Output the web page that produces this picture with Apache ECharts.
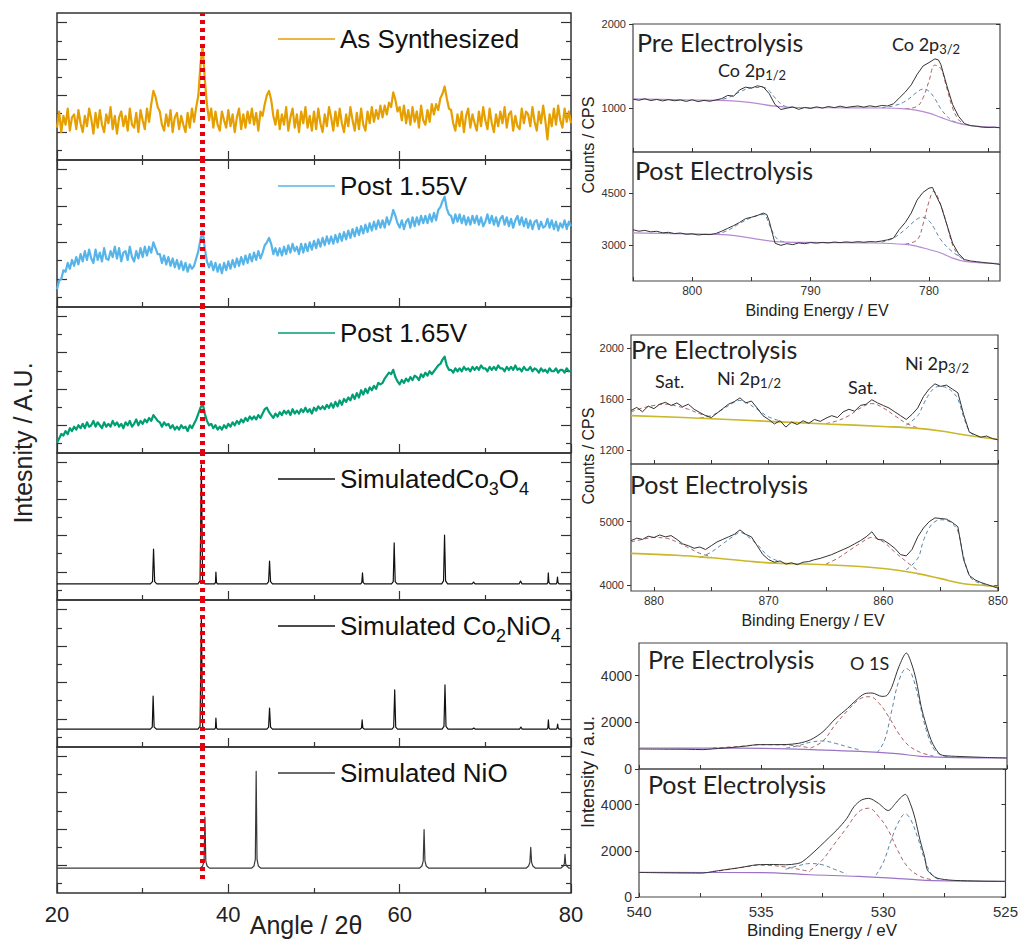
<!DOCTYPE html>
<html><head><meta charset="utf-8">
<script src="https://cdn.jsdelivr.net/npm/echarts@6.0.0/dist/echarts.min.js"></script>
<style>html,body{margin:0;padding:0;background:#fff}#c{width:1021px;height:939px}</style>
</head><body><div id="c"></div>
<script>
// ---------------- XRD data (left) ----------------
const xrdStart = 20, xrdStep = 0.25;
const xrdAsSynthesized = [
22,33,19,30, 24,35,20,29, 31,21,34,25, 19,30,23,35, 28,18,32,22, 34,24,19,31, 25,36,21,30, 18,29,33,23, 30,20,35,24, 22,32,19,34,
27,21,35,26, 38,47,43,36, 33,24,20,31, 23,34,19,29, 32,21,30,24, 19,32,22,35, 26,36,44,65, 78,55,38,27, 35,22,33,24, 20,33,27,22,
34,23,31,19, 29,35,21,31, 22,33,25,35, 24,32,20,33, 30,38,44,47, 41,30,24,34, 21,31,24,36, 20,29,35,22, 31,19,33,25, 36,22,30,20,
33,21,35,25, 19,31,23,36, 29,20,33,23, 35,25,19,31, 23,36,27,20, 32,21,35,24, 20,33,25,36, 26,34,28,37, 29,37,31,39, 36,46,41,33,
36,27,37,25, 34,24,36,26, 33,22,37,27, 24,34,26,38, 31,38,34,42, 45,50,42,35, 34,25,20,31, 23,33,19,30, 35,22,31,25, 20,33,23,36,
27,21,35,25, 19,31,23,33, 25,36,22,31, 33,20,30,23, 21,35,25,33, 31,23,36,26, 20,33,25,37, 27,14,31,23, 35,24,37,27, 22,35,26,33,
25];
const xrdPost155 = [
12,18,19,25, 24,30,26,32, 28,34,29,36, 31,38,32,39, 33,30,39,32, 37,31,40,33, 32,38,34,41, 33,40,31,37, 38,32,41,34, 31,38,33,40,
34,41,35,41, 37,44,40,36, 36,30,35,29, 34,28,33,27, 32,26,31,25, 30,24,29,26, 28,33,38,46, 52,40,31,27, 31,25,30,24, 29,23,30,25,
31,26,32,27, 33,28,34,29, 35,30,36,31, 37,32,38,33, 37,42,44,47, 43,36,40,35, 40,35,41,36, 42,37,43,38, 41,36,43,37, 43,38,44,39,
45,40,46,41, 47,42,48,43, 48,43,49,44, 50,45,51,46, 52,47,53,48, 54,49,55,50, 56,51,57,52, 58,53,59,54, 59,54,61,56, 60,66,62,57,
54,59,53,58, 60,54,61,55, 61,56,62,57, 62,57,63,58, 64,59,66,68, 72,75,67,63, 62,57,63,58, 63,57,62,56, 61,56,62,57, 62,56,61,55,
58,63,57,62, 56,61,55,60, 62,56,61,55, 60,54,59,62, 56,61,55,60, 54,59,53,58, 59,53,58,54, 55,60,54,59, 53,58,52,57, 54,59,53,58,
55];
const xrdPost165 = [
7,10,13,12, 15,13,17,15, 18,16,19,17, 20,17,21,18, 19,22,18,21, 19,17,21,18, 20,18,22,19, 21,18,20,17, 21,19,22,18, 20,23,19,22,
20,23,21,24, 22,26,24,22, 21,18,21,19, 20,17,19,16, 18,16,19,17, 18,15,19,17, 20,23,27,31, 34,27,22,19, 20,17,19,16, 18,16,19,17,
20,18,21,19, 22,20,23,21, 24,22,25,23, 25,23,26,24, 27,30,31,28, 26,24,27,25, 28,26,29,27, 29,26,30,27, 29,27,30,28, 31,28,30,27,
31,29,32,30, 32,30,33,31, 34,31,35,32, 36,33,37,35, 38,36,40,37, 41,38,43,40, 44,41,45,43, 46,44,48,47, 48,51,53,55, 54,57,52,49,
47,50,48,51, 49,52,50,53, 52,50,54,52, 55,53,56,54, 56,58,60,61, 64,66,60,57, 57,55,58,56, 58,56,59,57, 58,56,59,57, 59,57,60,58,
58,56,59,57, 59,57,60,58, 58,56,59,57, 59,57,60,57, 58,56,59,57, 57,59,56,58, 57,55,58,56, 57,55,58,56, 56,58,55,57, 57,55,58,56,
56];
const simCo3O4 = [[20,11],[30.9,11],[31.15,12.5],[31.27,34.7],[31.4,12.5],[31.65,11],
[36.45,11],[36.7,13],[36.85,92],[37.0,13],[37.25,11],
[38.4,11],[38.5,12],[38.55,19],[38.62,12],[38.72,11],
[44.5,11],[44.7,12.5],[44.81,26.5],[44.93,12.5],[45.15,11],
[55.45,11],[55.58,12],[55.66,18.4],[55.74,12],[55.9,11],
[59.05,11],[59.25,12.5],[59.36,38.8],[59.48,12.5],[59.7,11],
[64.9,11],[65.12,13],[65.24,44.2],[65.36,13],[65.6,11],
[68.45,11],[68.63,12.2],[68.8,11],
[73.95,11],[74.11,12.9],[74.27,11],
[77.2,11],[77.3,12],[77.35,18.4],[77.42,12],[77.55,11],
[78.3,11],[78.36,12],[78.42,15.6],[78.48,12],[78.6,11],[80,11]];
const simCo2NiO4 = [[20,12.2],[30.9,12.2],[31.12,13.5],[31.22,34.7],[31.34,13.5],[31.6,12.2],
[36.45,12.2],[36.7,14],[36.85,88],[37.0,14],[37.25,12.2],
[38.4,12.2],[38.5,13],[38.55,19.7],[38.62,13],[38.72,12.2],
[44.5,12.2],[44.7,13.5],[44.81,26.5],[44.93,13.5],[45.15,12.2],
[55.4,12.2],[55.55,13],[55.62,18.4],[55.7,13],[55.85,12.2],
[59.1,12.2],[59.3,13.5],[59.42,38.8],[59.54,13.5],[59.75,12.2],
[64.95,12.2],[65.17,14],[65.29,42.2],[65.41,14],[65.65,12.2],
[68.5,12.2],[68.65,12.9],[68.8,12.2],
[74.0,12.2],[74.15,13.6],[74.3,12.2],
[77.2,12.2],[77.3,13],[77.36,18.4],[77.43,13],[77.55,12.2],
[78.3,12.2],[78.38,13],[78.44,15.6],[78.5,13],[78.6,12.2],[80,12.2]];
const simNiO = [[20,17],[36.7,17],[37.0,18.5],[37.17,22],[37.27,52],[37.37,22],[37.52,18.5],[37.8,17],
[42.7,17],[43.0,18.5],[43.15,23],[43.25,83.4],[43.35,23],[43.5,18.5],[43.8,17],
[62.3,17],[62.6,18.5],[62.75,22],[62.85,43.5],[62.95,22],[63.1,18.5],[63.4,17],
[74.75,17],[75.05,18.5],[75.2,21],[75.3,31.3],[75.4,21],[75.55,18.5],[75.85,17],
[78.8,17],[79.1,18.5],[79.22,20],[79.3,26.5],[79.38,20],[79.5,18.5],[79.75,17],[80,17]];
const xrdNames = ['As Synthesized','Post 1.55V','Post 1.65V','SimulatedCo3O4','Simulated Co2NiO4','Simulated NiO'];
const xrdLegendText = ['As Synthesized','Post 1.55V','Post 1.65V','{t|SimulatedCo}{s|3}{t|O}{s|4}','{t|Simulated Co}{s|2}{t|NiO}{s|4}','Simulated NiO'];
const xrdColors = ['#E69F00','#56B4E9','#009E73','#111111','#111111','#3a3a3a'];
const xrdMajorTicks = [20,40,60,80];
const xrdYLongTicks = [93.5,68.7,43.9,19.2];
const xrdYShortTicks = [81.1,56.3,31.6,6.8];
const refAngle = 36.95;
const refLineEndPct = 8.9;

// ---------------- XPS data (right) ----------------
const coPre = [[805,1105],[804.5,1092],[804,1110],[803.5,1088],[803,1102],[802.5,1084],[802,1100],[801.5,1086],[801,1096],[800.5,1078],[800,1098],[799.5,1076],[799,1090],[798.5,1080],[798,1096],[797.5,1112],[797,1150],[796.5,1140],[796,1215],[795.5,1248],[795,1236],[794.5,1264],[794,1250],[793.5,1172],[793,1040],[792.5,982],[792,998],[791.5,1012],[791,984],[790.5,1006],[790,994],[789.5,1014],[789,998],[788.5,1018],[788,1004],[787.5,1022],[787,1006],[786.5,1016],[786,1024],[785.5,1010],[785,1026],[784.5,1014],[784,1030],[783.5,1024],[783,1050],[782.5,1120],[782,1190],[781.5,1275],[781,1400],[780.5,1500],[780,1540],[779.5,1585],[779.2,1572],[779,1520],[778.5,1270],[778,1040],[777.5,900],[777,815],[776.5,790],[776,782],[775.5,772],[775,768],[774.5,771],[774,764]];
const coPreBg = [[805,1108],[800,1095],[797,1088],[795,1065],[793,1022],[791,1006],[787,1002],[784,1000],[782,990],[781,972],[780,938],[779,888],[778,838],[777,802],[776,785],[774,768]];
const coPreFitA = [[798,1088],[797,1120],[796,1190],[795,1240],[794,1245],[793.5,1205],[793,1120],[792.5,1050],[792,1015],[791,1005]];
const coPreFitB = [[782,992],[781,1020],[780.5,1120],[780,1320],[779.5,1510],[779,1470],[778.5,1240],[778,1000],[777.5,860],[777,805]];
const coPreFitC = [[784,1002],[783,1025],[782,1080],[781,1190],[780.5,1225],[780,1200],[779.5,1110],[779,990],[778.5,905],[778,845],[777,803]];
const coPost = [[805,3440],[804.5,3398],[804,3422],[803.5,3380],[803,3396],[802.5,3352],[802,3366],[801.5,3330],[801,3346],[800.5,3310],[800,3322],[799.5,3290],[799,3306],[798.5,3300],[798,3332],[797.5,3400],[797,3480],[796.5,3560],[796,3650],[795.5,3760],[795,3800],[794.5,3850],[794,3920],[793.7,3880],[793.5,3700],[793.2,3300],[793,3050],[792.5,2990],[792,3040],[791.5,3010],[791,3060],[790.5,3040],[790,3070],[789.5,3054],[789,3076],[788.5,3060],[788,3086],[787.5,3070],[787,3090],[786.5,3076],[786,3096],[785.5,3080],[785,3100],[784.5,3090],[784,3115],[783.5,3150],[783,3200],[782.5,3450],[782,3650],[781.5,3920],[781,4300],[780.5,4520],[780,4640],[779.7,4660],[779.5,4500],[779,4150],[778.5,3600],[778,3050],[777.5,2750],[777,2580],[776.5,2540],[776,2520],[775.5,2500],[775,2480],[774.5,2462],[774,2440]];
const coPostBg = [[805,3350],[800,3320],[797,3290],[795,3200],[793,3100],[790,3075],[785,3060],[782,3020],[781,2962],[780,2870],[779,2770],[778,2620],[777,2529],[775,2475],[774,2462]];
const coPostFitA = [[798,3300],[797,3420],[796,3620],[795,3790],[794,3880],[793.5,3600],[793,3250],[792.5,3110],[792,3090]];
const coPostFitB = [[782,3030],[781,3150],[780.5,3600],[780,4250],[779.6,4550],[779,4150],[778.5,3600],[778,3000],[777.5,2700],[777,2560]];
const coPostFitC = [[784,3080],[783,3200],[782,3450],[781,3750],[780.5,3800],[780,3700],[779.5,3450],[779,3150],[778,2800],[777,2580]];

const niPre = [[882,1510],[881.5,1535],[881,1500],[880.5,1545],[880,1525],[879.5,1560],[879,1575],[878.5,1550],[878,1570],[877.5,1540],[877,1560],[876.5,1520],[876,1495],[875.5,1470],[875,1455],[874.5,1490],[874,1525],[873.5,1560],[873,1580],[872.5,1610],[872,1570],[871.5,1585],[871,1530],[870.5,1470],[870,1440],[869.5,1405],[869,1430],[868.5,1380],[868,1420],[867.5,1400],[867,1430],[866.5,1410],[866,1440],[865.5,1425],[865,1450],[864.5,1470],[864,1455],[863.5,1500],[863,1520],[862.5,1505],[862,1550],[861.5,1560],[861,1595],[860.5,1570],[860,1550],[859.5,1530],[859,1500],[858.5,1470],[858,1440],[857.5,1480],[857,1530],[856.5,1620],[856,1680],[855.5,1720],[855,1700],[854.5,1710],[854,1680],[853.5,1650],[853,1480],[852.5,1340],[852,1320],[851.5,1300],[851,1310],[850.5,1290],[850,1280]];
const niPreBg = [[882,1470],[876,1450],[870,1425],[865,1405],[860,1385],[857,1370],[855,1350],[853,1320],[851,1295],[850,1285]];
const niPreFitA = [[858,1395],[857,1470],[856.5,1560],[856,1640],[855.5,1690],[855,1700],[854.5,1690],[854,1660],[853.5,1600],[853,1460],[852.5,1350],[852,1315],[851,1296]];
const niPreFitB = [[865,1408],[864,1430],[863,1470],[862,1530],[861,1565],[860,1530],[859,1470],[858,1410],[857,1375]];
const niPreFitC = [[876,1452],[875,1470],[874,1520],[873,1575],[872.5,1590],[872,1575],[871,1520],[870,1460],[869,1430]];
const niPreFitD = [[882,1500],[881,1530],[880,1550],[879,1560],[878,1545],[877,1520],[876,1485],[875,1460]];
const niPost = [[882,4700],[881.5,4740],[881,4720],[880.5,4770],[880,4750],[879.5,4790],[879,4760],[878.5,4780],[878,4720],[877.5,4650],[877,4620],[876.5,4580],[876,4600],[875.5,4560],[875,4620],[874.5,4680],[874,4720],[873.5,4760],[873,4800],[872.5,4870],[872,4800],[871.5,4760],[871,4620],[870.5,4480],[870,4400],[869.5,4360],[869,4380],[868.5,4330],[868,4350],[867.5,4320],[867,4360],[866.5,4370],[866,4400],[865.5,4420],[865,4450],[864.5,4480],[864,4520],[863.5,4560],[863,4600],[862.5,4650],[862,4700],[861.5,4760],[861,4840],[860.5,4720],[860,4710],[859.5,4650],[859,4580],[858.5,4480],[858,4460],[857.5,4560],[857,4760],[856.5,4900],[856,5000],[855.5,5060],[855,5050],[854.5,5040],[854,4990],[853.5,4920],[853,4400],[852.5,4150],[852,4080],[851.5,4040],[851,4010],[850.5,3980],[850,3950]];
const niPostBg = [[882,4500],[878,4470],[875,4430],[872,4380],[870,4350],[865,4320],[860,4260],[857,4180],[855,4100],[853,4020],[851,3990],[850,3975]];
const niPostFitA = [[858,4240],[857,4420],[856.5,4700],[856,4900],[855.5,5000],[855,5030],[854.5,5020],[854,4970],[853.5,4850],[853,4450],[852.5,4150],[852,4060],[851,4000]];
const niPostFitB = [[865,4330],[864,4420],[863,4540],[862,4660],[861,4750],[860,4680],[859,4520],[858,4370],[857,4230]];
const niPostFitC = [[876,4430],[875,4520],[874,4650],[873,4780],[872.5,4830],[872,4790],[871,4640],[870,4450],[869,4370]];
const niPostFitD = [[882,4680],[881,4720],[880,4750],[879,4740],[878,4680],[877,4590],[876,4500],[875,4450]];

const oPre = [[540,857],[539,850],[538,845],[537.4,830],[537,860],[536.5,900],[536,943],[535.5,1000],[535.2,1043],[534.5,1045],[534,1050],[533.5,1100],[533,1257],[532.5,1600],[532,2150],[531.5,2600],[531.2,2899],[530.8,3228],[530.5,3256],[530.1,3113],[529.9,3150],[529.7,3500],[529.4,4398],[529.1,4969],[528.9,4541],[528.7,3800],[528.5,2685],[528.3,1900],[528.1,1257],[527.9,850],[527.7,614],[527.4,560],[527.1,543],[526,500],[525,471]];
const oPreBg = [[540,900],[537,895],[535,886],[533,829],[531,757],[529.5,657],[528.5,543],[527.5,500],[525,471]];
const oPreFitA = [[530.3,700],[530,1200],[529.7,2500],[529.4,3800],[529.1,4300],[528.9,4100],[528.6,3000],[528.3,1700],[528,900],[527.7,600],[527.3,520]];
const oPreFitB = [[533,900],[532.5,1200],[532,1900],[531.5,2500],[531,3000],[530.6,3100],[530.2,2800],[529.8,2200],[529.4,1500],[529,1000],[528.5,700],[528,560]];
const oPreFitC = [[534,900],[533.5,1000],[533,1150],[532.5,1200],[532,1100],[531.5,950],[531,820]];
const oPreFitD = [[537,900],[536,960],[535,1040],[534,1030],[533,900]];
const oPost = [[540,1064],[539,1050],[538,1040],[537.4,1036],[537,1100],[536.5,1180],[536,1252],[535.5,1340],[535.2,1396],[534.5,1410],[534,1396],[533.5,1450],[533.3,1541],[533,1800],[532.6,2189],[532.2,2600],[531.9,2909],[531.5,3400],[531.2,3917],[530.9,4200],[530.6,4277],[530.2,4061],[529.8,3750],[529.5,4061],[529.3,4300],[529.1,4450],[528.9,4061],[528.7,3400],[528.5,2477],[528.3,1700],[528.2,1180],[528,950],[527.8,820],[527.5,760],[527.1,720],[526,690],[525,677]];
const oPostBg = [[540,1064],[535,1060],[533,965],[531,893],[529,778],[528,706],[525,677]];
const oPostFitA = [[530.3,950],[530,1500],[529.7,2400],[529.4,3200],[529.1,3600],[528.9,3400],[528.6,2600],[528.3,1600],[528,950],[527.7,750]];
const oPostFitB = [[533,1150],[532.5,1600],[532,2300],[531.5,3000],[531,3700],[530.6,3850],[530.2,3500],[529.8,2900],[529.4,2000],[529,1300],[528.5,900],[528,750]];
const oPostFitC = [[534,1200],[533.5,1350],[533,1450],[532.5,1400],[532,1200],[531.5,1000]];
const oPostFitD = [[537,1080],[536,1250],[535,1380],[534,1300],[533,1100]];

const coXLabels = [800,790,780], coXTicks = [805,800,795,790,785,780,775];
const niXLabels = [880,870,860,850], niXTicks = [880,875,870,865,860,855,850];
const oXLabels = [540,535,530,525], oXTicks = [540,537.5,535,532.5,530,527.5,525];
const coPreYLabels = [1000,2000], coPostYLabels = [3000,4500];
const niPreYLabels = [1200,1600,2000], niPostYLabels = [4000,5000];
const oYLabels = [0,2000,4000];

// ---------------- build ----------------
const FONT = 'Liberation Sans, Arial, sans-serif';
const grid = [], xAxis = [], yAxis = [], series = [], legend = [], graphic = [];
const leftPanels = [[13,147],[160,147],[307,146],[453,147],[600,147],[747,146]];
const toPairs = vals => vals.map((v, i) => [xrdStart + xrdStep * i, v]);
const xrdData = [toPairs(xrdAsSynthesized), toPairs(xrdPost155), toPairs(xrdPost165), simCo3O4, simCo2NiO4, simNiO];
const tickStyle = {color:'#333', width:1.2};
const plain = v => String(v);

leftPanels.forEach(([top, h], g) => {
  grid.push({left:57, width:514, top, height:h, show:true, borderColor:'#333', borderWidth:1.5, backgroundColor:'rgba(0,0,0,0)'});
  const baseX = {type:'value', gridIndex:g, min:20, max:80, interval:20, axisLine:{show:false}, splitLine:{show:false},
    axisTick:{inside:true, length:9, lineStyle:tickStyle},
    minorTick:{show:true, splitNumber:2, length:5, lineStyle:tickStyle},
    axisLabel:{show:g === 5, fontSize:22, color:'#222', margin:10, fontFamily:FONT, customValues:xrdMajorTicks, formatter:plain}};
  const xi = xAxis.length;
  xAxis.push(Object.assign({position:'bottom'}, baseX));
  if (g === 0) xAxis.push(Object.assign({}, baseX, {position:'top', axisLabel:{show:false}}));
  const yi = yAxis.length;
  [['left', xrdYLongTicks, 10], ['left', xrdYShortTicks, 5], ['right', xrdYLongTicks, 10], ['right', xrdYShortTicks, 5]].forEach(([pos, vals, len]) => {
    yAxis.push({type:'value', gridIndex:g, min:0, max:100, position:pos, axisLine:{show:false}, axisLabel:{show:false}, splitLine:{show:false},
      axisTick:{show:true, inside:true, length:len, customValues:vals, lineStyle:tickStyle}});
  });
  const c = xrdColors[g];
  series.push({type:'line', name:xrdNames[g], xAxisIndex:xi, yAxisIndex:yi, data:xrdData[g], symbol:'none', showSymbol:false,
    color:c, itemStyle:{color:c}, lineStyle:{color:c, width:g < 3 ? 2.2 : 1.2, join:'round'}, animation:false, z:2, silent:true,
    markLine:{silent:true, symbol:['none','none'], animation:false, label:{show:false},
      lineStyle:{color:'#e3000f', width:5, type:[4,4], opacity:1},
      data: g < 5 ? [{xAxis:refAngle}] : [[{coord:[refAngle,100]},{coord:[refAngle,refLineEndPct]}]]}});
  legend.push({left:273, top:top + 6, itemWidth:57, itemHeight:1.6, icon:'rect', selectedMode:false, data:[xrdNames[g]],
    formatter:() => xrdLegendText[g],
    textStyle:{fontSize:26, fontFamily:FONT, color:'#111', lineHeight:30,
      rich:{t:{fontSize:26, fontFamily:FONT, color:'#111', lineHeight:30},
            s:{fontSize:18, fontFamily:FONT, color:'#111', lineHeight:14, padding:[16,0,0,0], verticalAlign:'top'}}}});
});

function addXps(cfg) {
  const g = grid.length;
  grid.push(Object.assign({show:true, borderColor:'#444', borderWidth:1.2, backgroundColor:'rgba(0,0,0,0)'}, cfg.box));
  const xi = xAxis.length;
  xAxis.push({type:'value', gridIndex:g, min:cfg.x[0], max:cfg.x[1], inverse:true, position:'bottom',
    axisLine:{show:false}, splitLine:{show:false},
    axisTick:{inside:true, length:4, customValues:cfg.xTicks, lineStyle:{color:'#333'}},
    axisLabel:{show:cfg.lower, customValues:cfg.xLabels, fontSize:cfg.xFont, color:'#333', margin:cfg.xMargin, fontFamily:FONT, formatter:plain}});
  const yi = yAxis.length;
  yAxis.push({type:'value', gridIndex:g, min:cfg.y[0], max:cfg.y[1], position:'left', axisLine:{show:false}, splitLine:{show:false},
    axisTick:{inside:false, length:4, customValues:cfg.yLabels, lineStyle:{color:'#333'}},
    axisLabel:{customValues:cfg.yLabels, fontSize:cfg.yFont, color:'#333', margin:7, fontFamily:FONT, formatter:plain}});
  yAxis.push({type:'value', gridIndex:g, min:cfg.y[0], max:cfg.y[1], position:'right', axisLine:{show:false}, splitLine:{show:false},
    axisLabel:{show:false}, axisTick:{inside:true, length:4, customValues:cfg.yLabels, lineStyle:{color:'#333'}}});
  const fitColors = ['#5a86a8','#b06060','#5a86a8','#b06060'];
  cfg.fits.forEach((d, k) => series.push({type:'line', xAxisIndex:xi, yAxisIndex:yi, data:d, symbol:'none', smooth:0.4, silent:true, animation:false, z:1,
    lineStyle:{color:fitColors[k], width:1, type:[4,3]}}));
  series.push({type:'line', xAxisIndex:xi, yAxisIndex:yi, data:cfg.bg, symbol:'none', smooth:0.4, silent:true, animation:false, z:2,
    lineStyle:{color:cfg.bgColor, width:cfg.bgWidth}});
  series.push({type:'line', xAxisIndex:xi, yAxisIndex:yi, data:cfg.env, symbol:'none', smooth:cfg.smooth, silent:true, animation:false, z:3,
    lineStyle:{color:'#333', width:1}});
}
const coCommon = {x:[774,805], xLabels:coXLabels, xTicks:coXTicks, xFont:12, xMargin:4, yFont:11, bgColor:'#b88ad4', bgWidth:1.2, smooth:false};
addXps(Object.assign({}, coCommon, {box:{left:633, width:367, top:24, height:128}, lower:false, y:[476,2000], yLabels:coPreYLabels, env:coPre, bg:coPreBg, fits:[coPreFitA, coPreFitB, coPreFitC]}));
addXps(Object.assign({}, coCommon, {box:{left:633, width:367, top:152, height:129}, lower:true, y:[1962,5683], yLabels:coPostYLabels, env:coPost, bg:coPostBg, fits:[coPostFitA, coPostFitB, coPostFitC]}));
const niCommon = {x:[850,882], xLabels:niXLabels, xTicks:niXTicks, xFont:12, xMargin:4, yFont:11, bgColor:'#c9b82a', bgWidth:1.6, smooth:false};
addXps(Object.assign({}, niCommon, {box:{left:631, width:367, top:335, height:129}, lower:false, y:[1090,2104], yLabels:niPreYLabels, env:niPre, bg:niPreBg, fits:[niPreFitA, niPreFitB, niPreFitC, niPreFitD]}));
addXps(Object.assign({}, niCommon, {box:{left:631, width:367, top:464, height:127}, lower:true, y:[3905,5911], yLabels:niPostYLabels, env:niPost, bg:niPostBg, fits:[niPostFitA, niPostFitB, niPostFitC, niPostFitD]}));
const oCommon = {x:[525,540], xLabels:oXLabels, xTicks:oXTicks, xFont:15, xMargin:7, yFont:14, bgColor:'#9b74c6', bgWidth:1.2, smooth:0.3, yLabels:oYLabels};
addXps(Object.assign({}, oCommon, {box:{left:639, width:368, top:643, height:126}, lower:false, y:[0,5400], env:oPre, bg:oPreBg, fits:[oPreFitA, oPreFitB, oPreFitC, oPreFitD]}));
addXps(Object.assign({}, oCommon, {box:{left:639, width:368, top:769, height:128}, lower:true, y:[0,5550], env:oPost, bg:oPostBg, fits:[oPostFitA, oPostFitB, oPostFitC, oPostFitD]}));

// ---------------- texts ----------------
function txt(text, x, y, font, opts) {
  graphic.push(Object.assign({type:'text', x, y, silent:true, style:Object.assign({text, font, fill:'#222', align:'left', verticalAlign:'middle'}, (opts && opts.style) || {})}, (opts && opts.el) || {}));
}
const rot = {el:{rotation:Math.PI / 2}, style:{align:'center'}};
txt('Intesnity / A.U.', 23, 443, '25px ' + FONT, rot);
txt('Angle / 2θ', 306, 925, '25px ' + FONT, {style:{align:'center'}});
txt('Counts / CPS', 588, 145, '16px ' + FONT, rot);
txt('Binding Energy / EV', 817, 310, '16px ' + FONT, {style:{align:'center'}});
txt('Counts / CPS', 588, 456, '16px ' + FONT, rot);
txt('Binding Energy / EV', 813, 620, '16px ' + FONT, {style:{align:'center'}});
txt('Intensity / a.u.', 588, 772, '18px ' + FONT, rot);
txt('Binding Energy / eV', 822, 930, '17px ' + FONT, {style:{align:'center'}});

const LBL = 'Lato, "Open Sans", sans-serif';
const subRich = {a:{fontSize:18, fontFamily:LBL, fill:'#222', lineHeight:22}, s:{fontSize:13, fontFamily:LBL, fill:'#222', lineHeight:8, verticalAlign:'bottom'}};
txt('Pre Electrolysis', 637, 42, '25px ' + LBL);
txt('Post Electrolysis', 635, 170, '25px ' + LBL);
txt('{a|Co 2p}{s|1/2}', 718, 70, '18px ' + LBL, {style:{rich:subRich}});
txt('{a|Co 2p}{s|3/2}', 892, 44, '18px ' + LBL, {style:{rich:subRich}});
txt('Pre Electrolysis', 631, 349, '25px ' + LBL);
txt('Sat.', 655, 381, '18px ' + LBL);
txt('{a|Ni 2p}{s|1/2}', 717, 378, '18px ' + LBL, {style:{rich:subRich}});
txt('Sat.', 848, 387, '18px ' + LBL);
txt('{a|Ni 2p}{s|3/2}', 905, 363, '18px ' + LBL, {style:{rich:subRich}});
txt('Post Electrolysis', 630, 484, '25px ' + LBL);
txt('Pre Electrolysis', 648, 659, '25px ' + LBL);
txt('O 1S', 850, 663, '18px ' + LBL);
txt('Post Electrolysis', 648, 784, '25px ' + LBL);

const chart = echarts.init(document.getElementById('c'), null, {renderer:'svg', width:1021, height:939});
chart.setOption({animation:false, backgroundColor:'#fff', grid, xAxis, yAxis, series, legend, graphic});
</script></body></html>
